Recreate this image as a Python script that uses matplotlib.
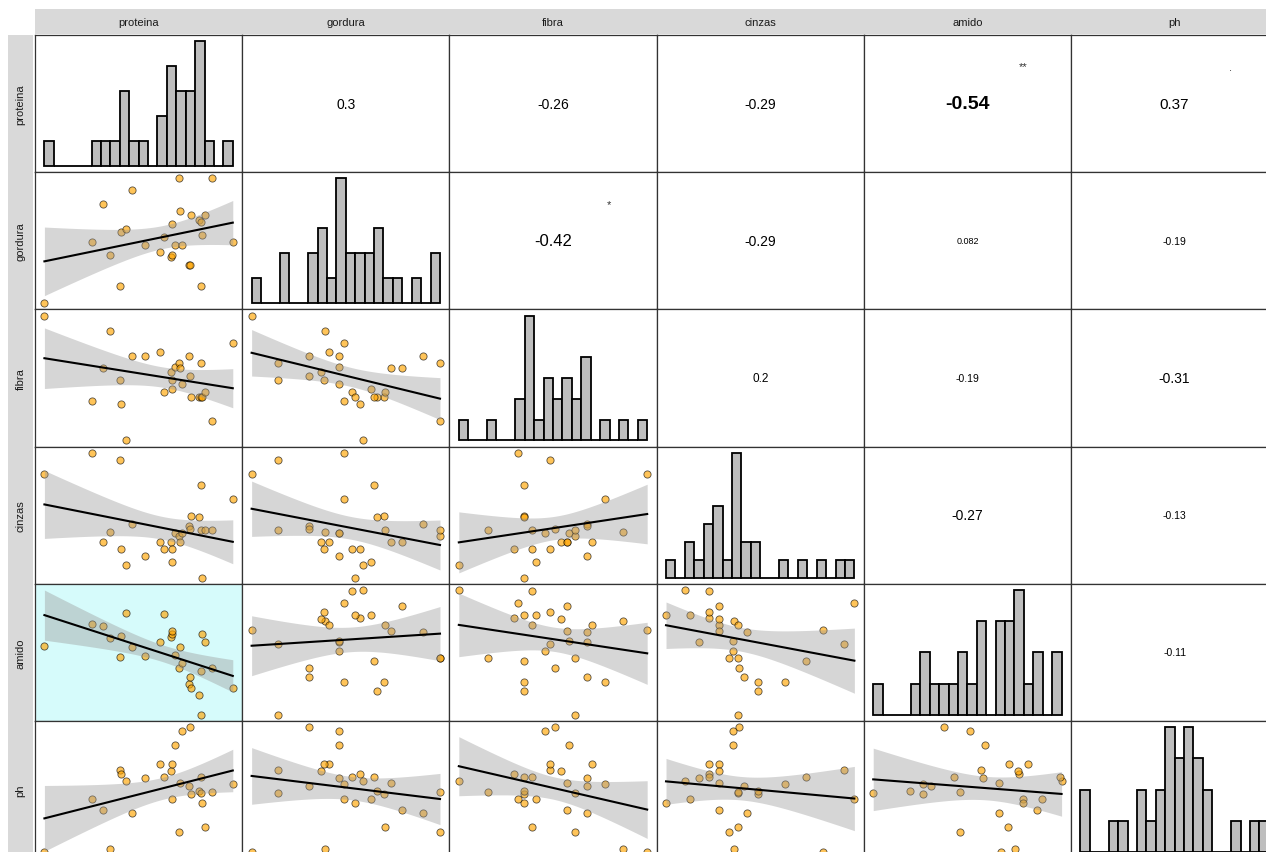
import numpy as np
import matplotlib
matplotlib.use("Agg")
import matplotlib.pyplot as plt

# ---- data (28 samples, arbitrary units per variable) ----
variables = ["proteina", "gordura", "fibra", "cinzas", "amido", "ph"]

proteina = [28, 170, 203, 226, 256, 258, 275, 291, 331, 377, 387, 410, 413, 413,
            420, 432, 436, 441, 462, 465, 468, 492, 500, 500, 503, 510, 532, 595]
gordura = [28, 303, 476, 246, 107, 350, 360, 540, 290, 258, 327, 234, 385, 245,
           290, 590, 443, 290, 198, 198, 424, 403, 393, 107, 335, 425, 590, 304]
fibra = [380, 125, 222, 333, 188, 117, 7, 260, 260, 270, 152, 210, 160, 188,
         225, 237, 222, 177, 260, 198, 137, 137, 137, 237, 137, 152, 65, 297]
cinzas = [315, 378, 110, 140, 358, 90, 42, 165, 70, 110, 91, 110, 52, 91,
          138, 130, 110, 138, 160, 149, 188, 187, 282, 147, 5, 147, 147, 240]
amido = [214, 280, 273, 237, 181, 243, 312, 210, 184, 227, 309, 242, 250, 258,
         188, 147, 211, 164, 100, 122, 88, 66, 138, 7, 250, 226, 147, 88]
ph = [7, 165, 132, 15, 252, 242, 219, 123, 228, 272, 233, 251, 165, 272,
      328, 67, 213, 370, 205, 382, 182, 190, 232, 184, 153, 83, 188, 212]

columns = [proteina, gordura, fibra, cinzas, amido, ph]

# upper-triangle correlation labels (row index, column index)
corr_rows = [0, 0, 0, 0, 0, 1, 1, 1, 1, 2, 2, 2, 3, 3, 4]
corr_cols = [1, 2, 3, 4, 5, 2, 3, 4, 5, 3, 4, 5, 4, 5, 5]
corr_text = ["0.3", "-0.26", "-0.29", "-0.54", "0.37", "-0.42", "-0.29", "0.082",
             "-0.19", "0.2", "-0.19", "-0.31", "-0.27", "-0.13", "-0.11"]
corr_stars = ["", "", "", "**", ".", "*", "", "", "", "", "", "", "", "", ""]

# ---- styling ----
FONT = ["Liberation Sans", "DejaVu Sans"]
plt.rcParams["font.family"] = FONT

POINT_FILL = "orange"
RIBBON = "#999999"
HIST_FILL = "#BEBEBE"
FRAME = "#333333"
STRIP_BG = "#D9D9D9"
HIGHLIGHT_BG = "#D6FBFB"
T_CRIT = 2.0555  # Student t, 0.975 quantile, 26 degrees of freedom


def text_size(label):
    r = abs(float(label))
    if r >= 0.5:
        return 14
    if r >= 0.4:
        return 12
    if r >= 0.35:
        return 11
    if r >= 0.25:
        return 10
    if r >= 0.2:
        return 8.5
    if r >= 0.1:
        return 7.5
    return 6.5


W, H = 1266, 853
fig = plt.figure(figsize=(W / 100, H / 100), dpi=100)
fig.patch.set_facecolor("white")

X0, Y0 = 35.0, 36.0
CW, RH = 207.2, 137.2


def rect(x, y, w, h):
    return [x / W, 1 - (y + h) / H, w / W, h / H]


def style_panel(ax, bg="white"):
    ax.set_facecolor(bg)
    ax.set_xticks([])
    ax.set_yticks([])
    for s in ax.spines.values():
        s.set_color(FRAME)
        s.set_linewidth(0.9)
    ax.use_sticky_edges = False


n = len(variables)
lookup = {(r, c): (t, s) for r, c, t, s in zip(corr_rows, corr_cols, corr_text, corr_stars)}

# column strips on top
for j, name in enumerate(variables):
    sa = fig.add_axes(rect(X0 + j * CW, 10, CW, 25))
    sa.set_facecolor(STRIP_BG)
    sa.set_xticks([]); sa.set_yticks([])
    for s in sa.spines.values():
        s.set_visible(False)
    sa.text(0.5, 0.5, name, ha="center", va="center", fontsize=8, color="#1A1A1A",
            transform=sa.transAxes)

# row strips on the left
for i, name in enumerate(variables):
    sa = fig.add_axes(rect(8, Y0 + i * RH, 25, RH))
    sa.set_facecolor(STRIP_BG)
    sa.set_xticks([]); sa.set_yticks([])
    for s in sa.spines.values():
        s.set_visible(False)
    sa.text(0.5, 0.5, name, ha="center", va="center", fontsize=8, color="#1A1A1A",
            rotation=90, transform=sa.transAxes)

for i in range(n):
    for j in range(n):
        ax = fig.add_axes(rect(X0 + j * CW, Y0 + i * RH, CW, RH))
        if i == j:
            # histogram, 20 bins centred on the data range
            v = np.asarray(columns[i], dtype=float)
            w = (v.max() - v.min()) / 19
            edges = v.min() - w / 2 + w * np.arange(21)
            style_panel(ax)
            ax.hist(v, bins=edges, color=HIST_FILL, edgecolor="black", linewidth=1.3)
            ax.margins(x=0.05, y=0.05)
        elif i < j:
            style_panel(ax)
            label, star = lookup[(i, j)]
            ax.text(0.5, 0.5, label, ha="center", va="center", transform=ax.transAxes,
                    fontsize=text_size(label), color="black",
                    fontweight="bold" if star == "**" else "normal")
            if star:
                ax.text(0.77, 0.77, star, ha="center", va="center", transform=ax.transAxes,
                        fontsize=8, color="#333333")
            ax.set_xlim(0, 1); ax.set_ylim(0, 1)
        else:
            x = np.asarray(columns[j], dtype=float)
            y = np.asarray(columns[i], dtype=float)
            star = lookup[(j, i)][1]
            style_panel(ax, HIGHLIGHT_BG if star == "**" else "white")
            ax.scatter(x, y, s=27, facecolor=POINT_FILL, edgecolor="black",
                       linewidths=0.6, alpha=0.65, zorder=2)
            # least-squares line with 95% confidence band
            b, a = np.polyfit(x, y, 1)
            xs = np.linspace(x.min(), x.max(), 80)
            yhat = a + b * xs
            resid = y - (a + b * x)
            s_err = np.sqrt(np.sum(resid ** 2) / (len(x) - 2))
            sxx = np.sum((x - x.mean()) ** 2)
            se = s_err * np.sqrt(1 / len(x) + (xs - x.mean()) ** 2 / sxx)
            ax.fill_between(xs, yhat - T_CRIT * se, yhat + T_CRIT * se, color=RIBBON,
                            alpha=0.4, linewidth=0, zorder=3)
            ax.plot(xs, yhat, color="black", linewidth=1.5, zorder=4)
            ax.margins(x=0.05, y=0.05)

fig.savefig("out.png", dpi=100, facecolor="white")
